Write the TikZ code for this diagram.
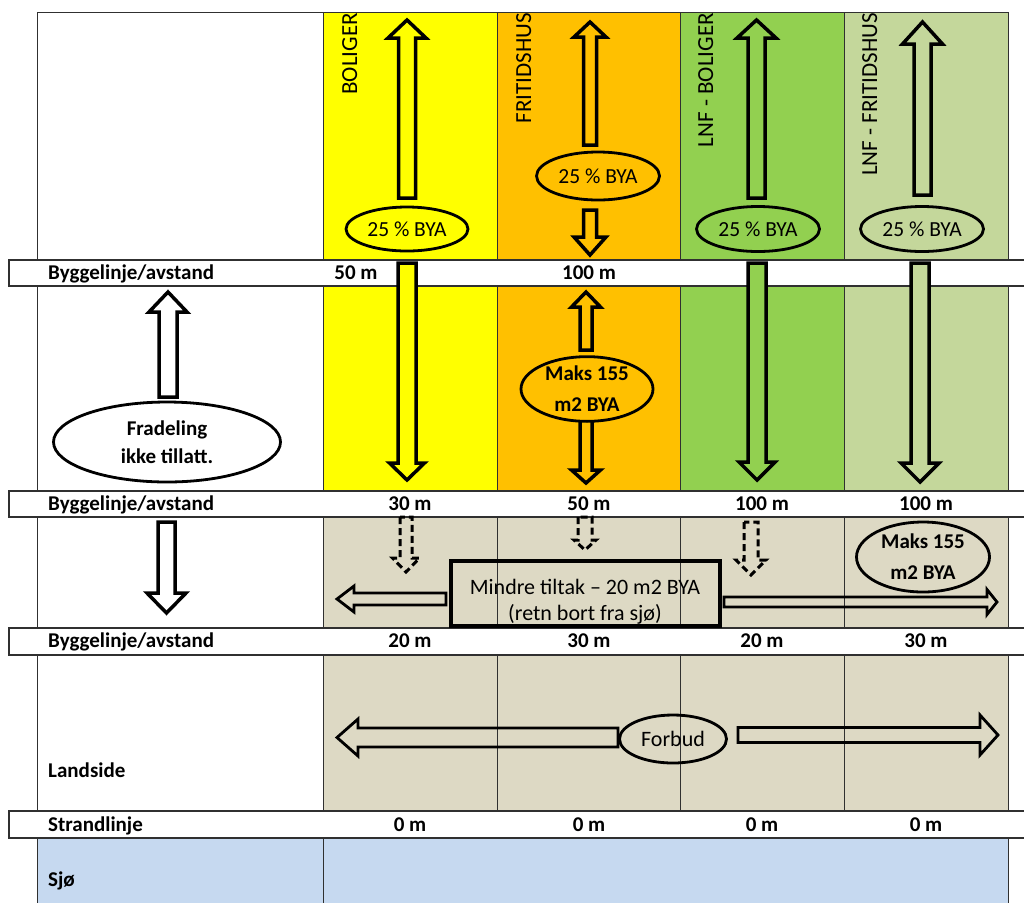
\documentclass[tikz,border=0pt]{standalone}
\usepackage{fontspec}
\setmainfont{Carlito}
\usetikzlibrary{shapes.geometric}
\definecolor{cyel}{HTML}{FFFF00}
\definecolor{corg}{HTML}{FFC000}
\definecolor{cgrn}{HTML}{92D050}
\definecolor{clgr}{HTML}{C4D79B}
\definecolor{cbei}{HTML}{DDD9C4}
\definecolor{cblu}{HTML}{C6D9F0}
\definecolor{cgrid}{HTML}{303030}
% vertical block arrow: #1 xc, #2 tip y, #3 tail y, #4 half shaft, #5 half head, #6 signed head length, #7 style
\newcommand{\blockv}[7]{\draw[#7] ({#1-#4},{#3}) -- ({#1-#4},{#2+#6}) -- ({#1-#5},{#2+#6}) -- ({#1},{#2}) -- ({#1+#5},{#2+#6}) -- ({#1+#4},{#2+#6}) -- ({#1+#4},{#3}) -- cycle;}
% horizontal block arrow: #1 yc, #2 tip x, #3 tail x, #4 half shaft, #5 half head, #6 signed head length, #7 style
\newcommand{\blockh}[7]{\draw[#7] ({#3},{#1-#4}) -- ({#2+#6},{#1-#4}) -- ({#2+#6},{#1-#5}) -- ({#2},{#1}) -- ({#2+#6},{#1+#5}) -- ({#2+#6},{#1+#4}) -- ({#3},{#1+#4}) -- cycle;}
\tikzset{
  lbl/.style={font=\fontsize{21}{25}\selectfont\bfseries, inner sep=0pt},
  val/.style={lbl, anchor=base},
  hdr/.style={font=\fontsize{23}{27}\selectfont, rotate=90, anchor=base east, inner sep=0pt},
  oval/.style={draw, ellipse, line width=2.8pt, inner sep=0pt, align=center},
  blk/.style={draw, line width=3.5pt, line join=miter},
  thin/.style={draw, line width=2.8pt, line join=miter},
  dsh/.style={draw, line width=3pt, dash pattern=on 7pt off 4pt},
  grid/.style={draw=cgrid, line width=1pt},
  band/.style={draw=cgrid, fill=white, line width=1.3pt},
}
\begin{document}
\begin{tikzpicture}[x=1pt,y=-1pt]
\useasboundingbox (0,0) rectangle (1024,903);
\clip (0,0) rectangle (1024,903);
% cell fills
\fill[cyel] (323,12) rectangle (497,491);
\fill[corg] (497,12) rectangle (680,491);
\fill[cgrn] (680,12) rectangle (844,491);
\fill[clgr] (844,12) rectangle (1008,491);
\fill[cbei] (323,491) rectangle (1008,838);
\fill[cblu] (37,838) rectangle (1008,903);
% grid
\draw[grid] (37,12) -- (1008,12);
\draw[grid] (37,12) -- (37,903);
\draw[grid] (323,12) -- (323,903);
\draw[grid] (1008,12) -- (1008,903);
\foreach \xx in {497,680,844} \draw[grid] (\xx,12) -- (\xx,811);
% bands
\draw[band] (9,260) rectangle (1040,286);
\draw[band] (9,491) rectangle (1040,517);
\draw[band] (9,628) rectangle (1040,655);
\draw[band] (9,811) rectangle (1040,838);
% headers
\node[hdr] (h1) at (357,13) {BOLIGER};
\node[hdr] (h2) at (531,13) {FRITIDSHUS};
\node[hdr] (h3) at (713,13) {LNF - BOLIGER};
\node[hdr] (h4) at (877,13) {LNF - FRITIDSHUS};
% row 1 arrows
\blockv{407}{20}{198}{8.5}{19}{18}{blk, fill=cyel}
\blockv{590}{22}{145}{6.5}{16}{15}{blk, fill=corg}
\blockv{590}{255}{210}{6.5}{16}{-18}{blk, fill=corg}
\blockv{756.5}{20}{198}{8.5}{19.5}{18}{blk, fill=cgrn}
\blockv{922.5}{22}{195}{8.5}{20}{22}{blk, fill=clgr}
\node[oval, fill=cyel, minimum width=122pt, minimum height=44pt, font=\fontsize{21.5}{25}\selectfont] (e1) at (407,229) {25 \% BYA};
\node[oval, fill=corg, minimum width=123pt, minimum height=48pt, font=\fontsize{21.5}{25}\selectfont] (e2) at (598,176) {25 \% BYA};
\node[oval, fill=cgrn, minimum width=123pt, minimum height=45pt, font=\fontsize{21.5}{25}\selectfont] (e3) at (758,229) {25 \% BYA};
\node[oval, fill=clgr, minimum width=123pt, minimum height=45pt, font=\fontsize{21.5}{25}\selectfont] (e4) at (922,229) {25 \% BYA};
% row 2 arrows
\blockv{407}{480}{263}{9}{17.5}{-17}{blk, fill=cyel}
\blockv{757}{480}{263}{9}{18}{-18}{blk, fill=cgrn}
\blockv{920}{482}{263}{9}{19}{-19}{blk, fill=clgr}
\blockv{586}{292}{350}{6}{14.5}{15}{blk, fill=corg}
\blockv{586}{483}{420}{6}{14.5}{-13}{blk, fill=corg}
\node[oval, fill=corg, minimum width=132pt, minimum height=62pt, font=\fontsize{21}{31}\selectfont\bfseries] (e5) at (587,389) {Maks 155\\m2 BYA};
% left column
\blockv{168}{292}{397}{9}{19}{20}{blk, fill=white}
\node[oval, fill=white, minimum width=227pt, minimum height=80pt, font=\fontsize{21}{28}\selectfont\bfseries] (e6) at (167,442) {Fradeling\\ikke tillatt.};
\blockv{166.5}{613}{522}{8.5}{19.5}{-20}{blk, fill=white}
% row 3
\blockv{406}{572}{517}{6}{13.5}{-14}{dsh}
\blockv{585}{550}{517}{7}{11}{-10}{dsh}
\blockv{751}{575}{522}{7}{15}{-15}{dsh}
\blockh{599}{337}{446}{6}{13}{17}{thin}
\blockh{602}{997}{724}{5}{12.5}{-10}{thin}
\node[font=\fontsize{22}{26}\selectfont, align=center, inner sep=0pt] (t1) at (585,602) {Mindre tiltak – 20 m2 BYA\\(retn bort fra sjø)};
\draw[line width=4pt] (451,561) rectangle (720,626);
\node[oval, minimum width=133pt, minimum height=70pt, font=\fontsize{21}{31}\selectfont\bfseries] (e7) at (923,557) {Maks 155\\m2 BYA};
% row 4
\blockh{737.5}{337}{618}{9.5}{18.5}{21}{thin}
\blockh{735}{998}{738}{7.5}{20}{-18}{thin}
\node[oval, minimum width=107pt, minimum height=48pt, font=\fontsize{22}{26}\selectfont] (e8) at (673,739) {Forbud};
% band labels
\node[lbl, anchor=base west] (b1) at (48,279) {Byggelinje/avstand};
\node[lbl, anchor=base west] (b2) at (48,510) {Byggelinje/avstand};
\node[lbl, anchor=base west] (b3) at (48,647) {Byggelinje/avstand};
\node[lbl, anchor=base west] (b4) at (48,831) {Strandlinje};
\node[lbl, anchor=base west] (ls) at (48,777) {Landside};
\node[lbl, anchor=base west] (sj) at (48,886) {Sjø};
\node[val] (v11) at (356,279) {50 m};
\node[val] (v12) at (589,279) {100 m};
\node[val] (v21) at (410,510) {30 m};
\node[val] (v22) at (589,510) {50 m};
\node[val] (v23) at (762,510) {100 m};
\node[val] (v24) at (926,510) {100 m};
\node[val] (v31) at (410,647) {20 m};
\node[val] (v32) at (589,647) {30 m};
\node[val] (v33) at (762,647) {20 m};
\node[val] (v34) at (926,647) {30 m};
\node[val] (v41) at (410,831) {0 m};
\node[val] (v42) at (589,831) {0 m};
\node[val] (v43) at (762,831) {0 m};
\node[val] (v44) at (926,831) {0 m};
\end{tikzpicture}
\end{document}
